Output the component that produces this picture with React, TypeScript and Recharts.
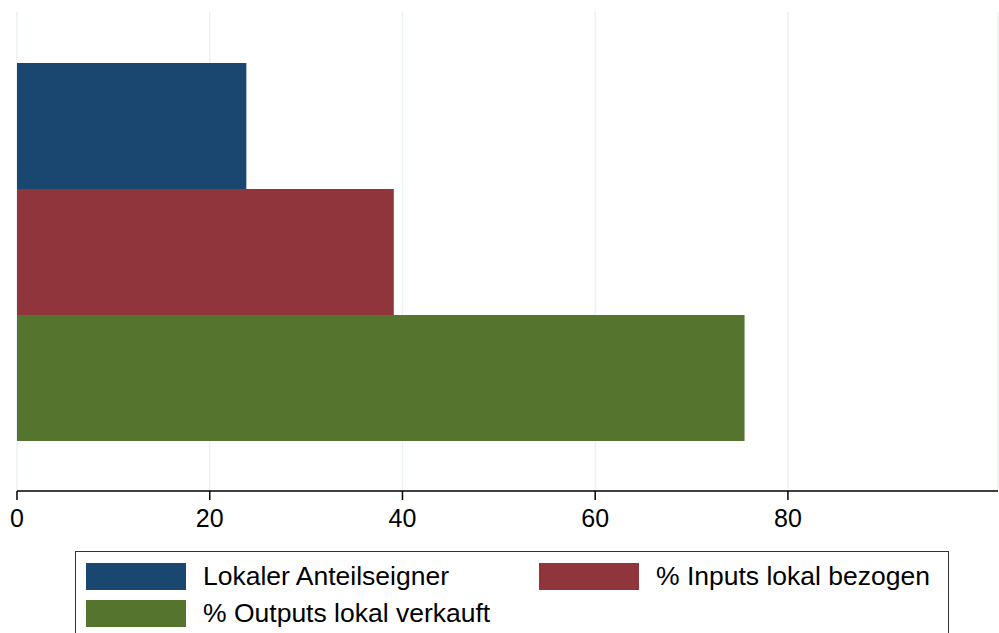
import React from "react";
import { BarChart, Bar, XAxis, YAxis, CartesianGrid } from "recharts";

const categories = [""];
const seriesNames = ["Lokaler Anteilseigner", "% Inputs lokal bezogen", "% Outputs lokal verkauft"];
const seriesKeys = ["anteil", "inputs", "outputs"];
const seriesValues = [23.8, 39.1, 75.5];
const seriesColors = ["#1a476f", "#90353b", "#55752f"];
const xTicks = [0, 20, 40, 60, 80];

const data = categories.map((name) => {
  const row: Record<string, string | number> = { name };
  seriesKeys.forEach((k, i) => {
    row[k] = seriesValues[i];
  });
  return row;
});

const font = "Arial, 'Liberation Sans', sans-serif";

// legend slots: [left, top] of swatch inside the box
const legendPos = [
  [10, 11],
  [463, 11],
  [10, 48],
];

export default function App() {
  return (
    <div style={{ position: "absolute", left: 0, top: 0, width: 999, height: 633, overflow: "hidden", background: "#fff" }}>
      <BarChart
        width={999}
        height={633}
        data={data}
        layout="vertical"
        margin={{ top: 12, right: 1, left: 17, bottom: 92 }}
        barCategoryGap={51}
        barGap={0}
      >
        <CartesianGrid horizontal={false} vertical={true} stroke="#eaf2f3" strokeWidth={1.5} />
        <XAxis
          type="number"
          domain={[0, 101.8]}
          ticks={xTicks}
          allowDataOverflow
          height={50}
          axisLine={{ stroke: "#000", strokeWidth: 1.5 }}
          tickLine={{ stroke: "#000", strokeWidth: 1.5 }}
          tickSize={9}
          tickMargin={9}
          tick={{ fill: "#000", fontSize: 25, fontFamily: font }}
        />
        <YAxis
          type="category"
          dataKey="name"
          width={0}
          tick={false}
          tickLine={false}
          axisLine={{ stroke: "#000", strokeWidth: 1.5 }}
        />
        {seriesKeys.map((k, i) => (
          <Bar key={k} dataKey={k} name={seriesNames[i]} fill={seriesColors[i]} isAnimationActive={false} />
        ))}
      </BarChart>
      <div
        style={{
          position: "absolute",
          left: 75,
          top: 551,
          width: 874,
          height: 120,
          border: "1.5px solid #333",
          boxSizing: "border-box",
          fontFamily: font,
          fontSize: 26.5,
          color: "#000",
        }}
      >
        {seriesNames.map((n, i) => (
          <div
            key={n}
            style={{ position: "absolute", left: legendPos[i][0], top: legendPos[i][1], display: "flex", alignItems: "center", whiteSpace: "nowrap" }}
          >
            <div style={{ width: 100, height: 27, background: seriesColors[i], marginRight: 17 }} />
            <span style={{ lineHeight: "27px" }}>{n}</span>
          </div>
        ))}
      </div>
    </div>
  );
}
